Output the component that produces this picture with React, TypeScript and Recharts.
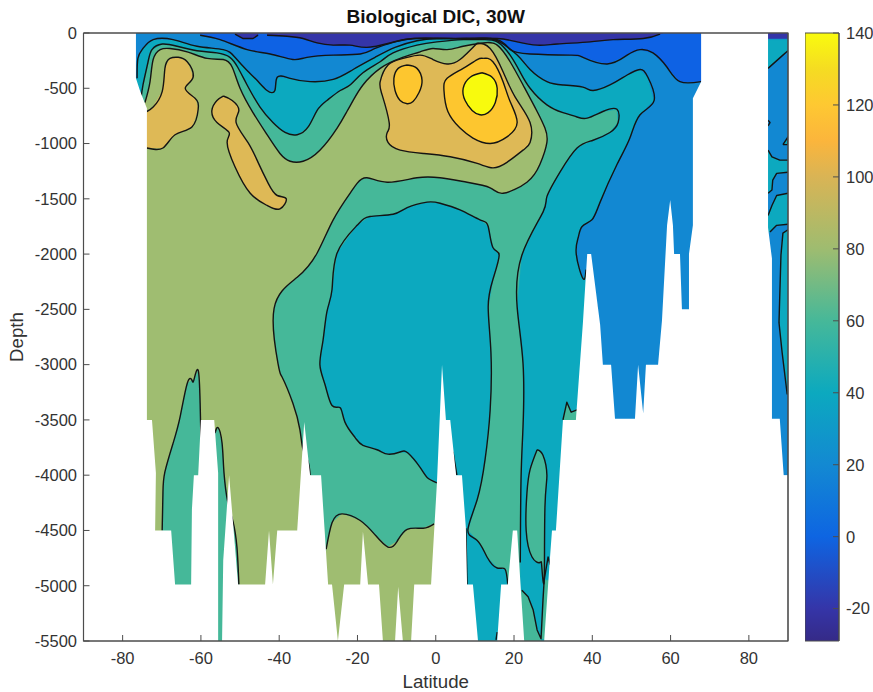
import { Bar, BarChart, Label, Scatter, ScatterChart, XAxis, YAxis } from "recharts";

type Pt = [number, number];

const latTicks = [-80, -60, -40, -20, 0, 20, 40, 60, 80];
const depthTicks = [-5500, -5000, -4500, -4000, -3500, -3000, -2500, -2000, -1500, -1000, -500, 0];
const barTicks = [-20, 0, 20, 40, 60, 80, 100, 120, 140];
const barValues = [140, 130, 120, 110, 100, 80, 60, 40, 20, 0, -20, -29];
const barColors = ["#f9fb0e", "#f5dc22", "#fec832", "#fbb53c", "#d9b455", "#9ebc70", "#46b899", "#0ca9bf", "#1389d2", "#0e65e2", "#3535a8", "#352a87"];

const NAVY = "#3535a8";
const BRIGHT = "#0e62e4";
const BLUE = "#1288d2";
const TEAL = "#0ca9bf";
const GREEN = "#45b899";
const OLIVE = "#9fbd71";
const TAN = "#deb956";
const ORANGE = "#fdc62f";
const YELLOW = "#f8fa0d";

const c80Main: Pt[] = [[-74.3,-630],[-73,-440],[-72.2,-240],[-70.4,-150],[-67.9,-140],[-63.5,-170],[-58.4,-230],[-54.3,-240],[-52,-310],[-50,-500],[-46.7,-720],[-43.1,-920],[-39.8,-1090],[-37.2,-1160],[-33.9,-1160],[-29.6,-1060],[-25.2,-860],[-22.7,-710],[-21.1,-610],[-18.6,-470],[-14.2,-320],[-9.1,-230],[-4,-170],[-0.7,-140],[2.9,-150],[7,-120],[12.1,-90],[15.7,-110],[19,-260],[22.3,-470],[25.9,-710],[27.9,-860],[28.4,-990],[26.6,-1190],[23.3,-1350],[17.2,-1450],[13.9,-1400],[8,-1350],[1.1,-1310],[-4.8,-1310],[-12.4,-1350],[-17.6,-1310],[-20.1,-1360],[-21.9,-1450],[-26.2,-1690],[-30.3,-1990],[-35.4,-2210],[-41.3,-2490],[-40.3,-2990],[-39.3,-3110],[-36.5,-3350],[-34.7,-3590],[-33.9,-3770],[-32.6,-3880],[-32.1,-4000]];
const c80Lower: Pt[] = [[-28,-4670],[-26.5,-4430],[-23.9,-4350],[-19.3,-4410],[-15.5,-4540],[-12.2,-4650],[-9.9,-4600],[-7.3,-4490],[-3.2,-4480],[-0.4,-4440]];
const c80PatchA: Pt[] = [[-69.9,-4500],[-69.7,-4160],[-69.2,-3970],[-67.1,-3710],[-65.3,-3470],[-63.5,-3170],[-62.3,-3140],[-61.8,-3140],[-60.7,-3050],[-60.2,-3350],[-60,-3660]];
const c80PatchB: Pt[] = [[-56.4,-3620],[-55.6,-3570],[-54.6,-3710],[-54.1,-3980],[-53.1,-4250],[-51.8,-4420],[-50.8,-4650],[-50.3,-4990]];
const c60Top: Pt[] = [[-75.3,-600],[-74.8,-470],[-73.5,-260],[-72.5,-150],[-69.9,-100],[-66.1,-120],[-61,-160],[-55.9,-180],[-52.6,-220],[-50.6,-310],[-48.2,-470],[-44.9,-670],[-41.6,-810],[-38.5,-900],[-35.4,-920],[-32.6,-850],[-30.3,-700],[-27.8,-610],[-24.4,-520],[-21.9,-470],[-18.6,-360],[-14.2,-260],[-10.9,-180],[-4.8,-110],[0.3,-80],[7,-60],[12.1,-60],[15.7,-80],[19,-200],[21.5,-350],[24.1,-500],[28.4,-650],[32.5,-720],[36.1,-760],[38.7,-770],[42.7,-710],[46.3,-690],[46.6,-810],[44.5,-900],[40.2,-970],[36.1,-1040],[31.7,-1260],[28.4,-1480],[27.4,-1620],[22,-2010],[20.8,-2480],[22.3,-2990],[22.3,-3560],[21.8,-4020],[21.6,-4790]];
const c60Lake: Pt[] = [[0.3,-4070],[-2.2,-4020],[-4,-3930],[-7.1,-3800],[-9.1,-3790],[-12.2,-3810],[-15,-3770],[-18.6,-3730],[-20.6,-3660],[-23.2,-3520],[-24.4,-3390],[-26.5,-3370],[-28.3,-3180],[-29.6,-3000],[-28.8,-2780],[-27.8,-2520],[-26.5,-2320],[-25.2,-1990],[-20.1,-1740],[-16.8,-1660],[-10.9,-1640],[-7.3,-1580],[-2.2,-1530],[1.1,-1540],[6.2,-1600],[11.3,-1690],[13.4,-1750],[14.6,-1940],[16.2,-2010],[14.6,-2230],[13.4,-2480],[14.1,-2890],[13.9,-3410],[12.6,-3860],[10.6,-4220],[8.2,-4500],[10.6,-4590],[13.1,-4740],[15.7,-4840],[17.7,-4850],[18.4,-4990]];
const c60Ellipse: Pt[] = [[25.9,-3770],[27.4,-3820],[28.4,-4000],[27.9,-4290],[27.7,-4950],[27.1,-4830],[26.6,-4790],[24.6,-4740],[23.1,-4500],[23.3,-4160],[24.1,-3950],[25.9,-3770]];
const c60Tail: Pt[] = [[27.7,-4950],[28.7,-4740],[29.2,-4810]];
const c60Floor: Pt[] = [[22,-5040],[23.6,-5100],[24.9,-5220],[25.9,-5400],[26.9,-5480],[27.4,-5130],[27.7,-4950]];
const c60Corner: Pt[] = [[32.5,-3500],[33.5,-3340],[34.6,-3430],[36.1,-3410]];
const c40Top: Pt[] = [[-76.3,-410],[-76.1,-230],[-74.8,-140],[-72.2,-60],[-67.1,-60],[-61,-120],[-54.3,-150],[-51.3,-220],[-48.2,-340],[-45.6,-430],[-43.1,-520],[-41.1,-520],[-40.5,-400],[-37.2,-410],[-32.1,-440],[-26.2,-420],[-21.1,-330],[-15.5,-220],[-10.4,-130],[-4.8,-70],[0.3,-50],[7,-50],[12.1,-50],[15.7,-70],[20.8,-200],[24.1,-330],[28.4,-440],[32.5,-470],[37.6,-490],[40.2,-520],[44.5,-470],[48.9,-380],[52.2,-330],[54.2,-400],[55.8,-610],[52.2,-740],[49.6,-950],[46.3,-1190],[42,-1530],[39.9,-1690],[37.4,-1750],[36.4,-1850],[35.9,-2000],[37.6,-2220],[38.4,-2140]];
const c20Top: Pt[] = [[-60.2,-20],[-55.1,-60],[-48.2,-150],[-42.3,-190],[-36.5,-240],[-32.9,-220],[-26.2,-200],[-19.3,-190],[-15.5,-140],[-10.4,-80],[-5.3,-50],[1.9,-50],[8,-50],[15.7,-60],[19,-150],[24.1,-190],[34.3,-200],[37.6,-220],[43.8,-280],[48.9,-200],[52.2,-150],[55.5,-180],[59.1,-310],[62.4,-440],[67.8,-440]];
const c0Blob: Pt[] = [[-51.3,-10],[-49.2,-50],[-46.7,-50],[-45.4,-20]];
const c0Top: Pt[] = [[-43.1,-20],[-38,-30],[-33.9,-50],[-30.3,-90],[-26.2,-110],[-21.9,-110],[-17.6,-130],[-11.7,-90],[-5.8,-50],[1.9,-50],[8,-50],[15.7,-50],[20.8,-80],[25.9,-110],[31,-100],[39.4,-80],[45.3,-60],[53,-50],[57.3,-10]];
const c100Center: Pt[] = [[10.6,-90],[13.9,-140],[17.2,-350],[20.3,-580],[24.1,-810],[24.1,-990],[22.3,-1060],[18.2,-1170],[14.6,-1220],[10.6,-1180],[3.7,-1120],[-3.2,-1090],[-9.1,-1060],[-12.2,-990],[-12.4,-900],[-11.9,-810],[-13.7,-560],[-14.2,-440],[-12.2,-290],[-8.4,-230],[-4,-200],[-0.7,-240],[2.9,-280],[6.2,-240],[10.6,-90]];
const c100Left: Pt[] = [[-73.8,-710],[-72.2,-670],[-69.9,-530],[-69.2,-320],[-67.9,-230],[-65.8,-220],[-63.5,-260],[-62,-400],[-64,-500],[-61.5,-590],[-60.7,-690],[-62.3,-850],[-66.6,-920],[-69.7,-1040],[-73.8,-1040]];
const c100Arm: Pt[] = [[-54.3,-570],[-52,-610],[-50.3,-700],[-51,-810],[-48,-990],[-45.4,-1170],[-42.8,-1360],[-40.5,-1470],[-38.2,-1500],[-39.8,-1590],[-43.1,-1560],[-47.4,-1450],[-51.3,-1210],[-53.3,-990],[-52.8,-900],[-55.9,-810],[-57.2,-700],[-55.9,-610],[-54.3,-570]];
const c120Left: Pt[] = [[-7.3,-290],[-4.8,-320],[-3.5,-430],[-4.3,-540],[-5.8,-620],[-7.3,-640],[-9.1,-610],[-10.4,-520],[-10.7,-410],[-9.6,-320],[-7.3,-290]];
const c120Right: Pt[] = [[12.1,-230],[14.6,-260],[17.2,-440],[19,-620],[20.8,-810],[18.2,-940],[13.9,-1000],[9.5,-950],[6.2,-860],[3.1,-710],[2.1,-520],[2.9,-410],[7,-320],[10.6,-240],[12.1,-230]];
const c140: Pt[] = [[11.8,-360],[14.4,-400],[15.7,-500],[15.2,-630],[13.4,-720],[11.3,-740],[9.3,-700],[7.5,-610],[7,-500],[8.8,-400],[11.8,-360]];

// short contour pieces left between the sea floor spikes
const stubA: Pt[] = [[7.7,-4480],[8,-4990]];
const stubB: Pt[] = [[4.4,-3790],[5.4,-4000]];
const stubC: Pt[] = [[40.2,-2250],[41.2,-2500]];
const stubD: Pt[] = [[15.7,-5420],[15.4,-5490]];

// far north column
const arcticTop: Pt[] = [[84.9,-320],[88.7,-200],[90,-160]];
const arcticDot: Pt[] = [[84.9,-790],[85.4,-810],[84.9,-840]];
const arcticTri: Pt[] = [[88.7,-1010],[90,-940],[90,-1010],[88.7,-1010]];
const arcticA: Pt[] = [[84.9,-1060],[85.9,-1120],[87.9,-1150],[90,-1150]];
const arcticB: Pt[] = [[90,-1260],[87.1,-1270],[86.1,-1330],[85.9,-1420],[84.9,-1450]];
const arcticC: Pt[] = [[90,-1450],[87.1,-1470],[85.9,-1560],[84.9,-1650]];
const arcticD: Pt[] = [[90,-1730],[87.1,-1740],[85.4,-1800]];
const arcticE: Pt[] = [[90,-1780],[88.7,-1810],[88.2,-2010],[87.7,-2620],[88.5,-2890],[89.8,-3270]];

const seaFloor: Pt[] = [[-76.6,0],[-76.6,-410],[-75.5,-530],[-73.8,-680],[-73.8,-3500],[-72.5,-3500],[-71.5,-3980],[-71.7,-4500],[-67.6,-4500],[-66.6,-4990],[-62.5,-4990],[-62.3,-4310],[-61.8,-4000],[-60.7,-4000],[-60,-3500],[-56.6,-3500],[-55.6,-3980],[-55.6,-5500],[-54.6,-5500],[-54.3,-4770],[-52.8,-4000],[-50.5,-4990],[-43.6,-4990],[-42.6,-4500],[-41.6,-4990],[-40.5,-4500],[-35.4,-4500],[-33.6,-3520],[-32.1,-4000],[-29.3,-4000],[-27.5,-4990],[-26.5,-4990],[-25,-5500],[-23.4,-4990],[-19.3,-4990],[-18.6,-4510],[-17.3,-4990],[-14.5,-4990],[-13.5,-5500],[-10.4,-5500],[-9.6,-5010],[-8.4,-5500],[-6.3,-5500],[-5.5,-4990],[-1.2,-4990],[0.3,-4070],[1.6,-3000],[2.6,-3500],[3.7,-3500],[5.2,-4000],[6.7,-4000],[7.7,-4480],[8,-4990],[9.5,-4990],[10.8,-5500],[15.7,-5500],[16.7,-4990],[18.4,-4990],[19.7,-4500],[20.8,-4500],[21.3,-4790],[22.6,-5500],[27.7,-5500],[29.2,-4740],[29.7,-4500],[30.7,-4500],[32.5,-3500],[35.8,-3500],[37.6,-2620],[38.7,-2000],[39.7,-2000],[42,-2640],[42.7,-3000],[44.8,-3000],[45.8,-3490],[50.9,-3490],[51.7,-3000],[53,-3440],[53.7,-3000],[56.8,-3000],[57.8,-2600],[59.1,-1740],[59.9,-1510],[60.6,-1740],[60.9,-2000],[62.4,-2000],[62.9,-2500],[64.7,-2500],[64.7,-2000],[65.7,-1740],[65.7,-590],[67.8,-440],[67.8,0],[84.9,0],[84.9,-1760],[85.9,-2040],[85.9,-3490],[87.9,-3490],[88.9,-4000],[90,-4000],[90,-5500],[-90,-5500],[-90,0]];
const plotFrame: Pt[] = [[-90,0],[90,0],[90,-5500],[-90,-5500],[-90,0]];

const fills: [Pt[], string, ("natural" | "linear")?][] = [
  [[[-78,0],[70,0],[70,-5500],[-78,-5500]], GREEN],
  [[...c80Main, [-34,-5200], [-80,-5200], [-80,-630]], OLIVE, "natural"],
  [[...c80Lower, [1,-4440], [1,-5500], [-29,-5500]], OLIVE],
  [[...c80PatchA, [-58,-3660], [-58,-5000], [-70,-5000]], GREEN],
  [[...c80PatchB, [-50.3,-5500], [-57,-5500]], GREEN],
  [[...c60Top, [21.6,-5500], [70,-5500], [70,0], [-78,0], [-78,-600]], TEAL],
  [[...c60Lake, [18.4,-5500], [4,-5500], [4,-4070]], TEAL],
  [c60Ellipse, GREEN, "natural"],
  [[...c60Floor.slice(0, 5), [26.9,-5500], [21,-5500], [21,-5040]], GREEN],
  [[...c60Floor.slice(4), [29,-4950], [29,-5500]], GREEN],
  [[...c60Corner, [37,-3410], [37,-3500]], GREEN],
  [[...c40Top, [40,-3000], [42,-5500], [70,-5500], [70,0], [-78,0], [-78,-410]], BLUE],
  [[...c20Top, [70,-440], [70,0], [-60.2,0]], BRIGHT],
  [[...c0Blob, [-45.4,0], [-51.3,0]], NAVY],
  [[...c0Top, [58,0], [-43.1,0]], NAVY],
  [[[84.5,0],[90,0],[90,-4000],[84.5,-4000]], BLUE],
  [[[84.5,-60],[90,-60],...[...arcticTop].reverse(),[84.5,-320]], TEAL],
  [[[84.5,0],[90,0],[90,-50],[84.5,-50]], NAVY],
  [arcticTri, TEAL],
  [[...arcticA, ...arcticB, [84.5,-1450], [84.5,-1060]], TEAL],
  [[...arcticC, [84.5,-1650], [84.5,-1800], ...[...arcticD].reverse()], TEAL],
  [[...arcticE, [90,-3270]], TEAL],
  [c100Center, TAN, "natural"],
  [[...c100Left, [-76,-1040], [-76,-710]], TAN],
  [c100Arm, TAN, "natural"],
  [c120Left, ORANGE, "natural"],
  [c120Right, ORANGE, "natural"],
  [c140, YELLOW, "natural"],
];

const smoothContours: Pt[][] = [
  c80Main, c80Lower, c80PatchA, c80PatchB, c60Top, c60Lake, c60Ellipse,
  c40Top, c20Top, c0Top, c100Center, c100Left, c100Arm, c120Left, c120Right, c140,
];
const straightContours: Pt[][] = [
  c60Tail, c60Floor, c60Corner, c0Blob, stubA, stubB, stubC, stubD,
  arcticTop, arcticDot, arcticTri, arcticA, arcticB, arcticC, arcticD, arcticE,
];

const toPoints = (rows: Pt[]) => rows.map(([lat, depth]) => ({ lat, depth }));
const noDot = () => <g />;
const FONT = "'Liberation Sans', Arial, sans-serif";
const AXIS_COLOR = "#4d4d4d";
const TEXT_COLOR = "#333333";
const tickStyle = { fontSize: 16.5, fontFamily: FONT, fill: TEXT_COLOR };
const labelStyle = { fontSize: 18.7, fontFamily: FONT, fill: TEXT_COLOR };
const lineStyle = { fill: "none", stroke: "#141414", strokeWidth: 1.4, strokeLinejoin: "round" as const };

const layer = { position: "absolute", left: 0, top: 0 } as const;

export default function App() {
  return (
    <div style={{ ...layer, width: 873, height: 692, background: "#ffffff" }}>
      <div style={layer}>
        <ScatterChart width={873} height={692} margin={{ top: 33, right: 85, bottom: 51, left: 83.5 }}>
          <XAxis type="number" dataKey="lat" domain={[-90, 90]} hide allowDataOverflow />
          <YAxis type="number" dataKey="depth" domain={[-5500, 0]} hide allowDataOverflow />
          {fills.map(([rows, color, curve], i) => (
            <Scatter
              key={"f" + i}
              data={toPoints(rows)}
              shape={noDot}
              lineJointType={curve ?? "linear"}
              line={{ fill: color, stroke: color, strokeWidth: 0.5 }}
              isAnimationActive={false}
            />
          ))}
          {smoothContours.map((rows, i) => (
            <Scatter
              key={"s" + i}
              data={toPoints(rows)}
              shape={noDot}
              lineJointType="natural"
              line={lineStyle}
              isAnimationActive={false}
            />
          ))}
          {straightContours.map((rows, i) => (
            <Scatter
              key={"c" + i}
              data={toPoints(rows)}
              shape={noDot}
              line={lineStyle}
              isAnimationActive={false}
            />
          ))}
          <Scatter
            data={toPoints(seaFloor)}
            shape={noDot}
            line={{ fill: "#ffffff", stroke: "none" }}
            isAnimationActive={false}
          />
        </ScatterChart>
      </div>

      <div style={layer}>
        <ScatterChart width={873} height={692} margin={{ top: 0, right: 0, bottom: 0, left: 0 }}>
          <XAxis
            xAxisId="bottom"
            type="number"
            dataKey="lat"
            domain={[-90, 90]}
            ticks={latTicks}
            interval={0}
            height={51}
            stroke={AXIS_COLOR}
            tickSize={-6}
            tickMargin={17}
            tick={tickStyle}
          >
            <Label value="Latitude" position="insideBottom" offset={4} style={labelStyle} />
          </XAxis>
          <XAxis
            xAxisId="top"
            orientation="top"
            type="number"
            dataKey="lat"
            domain={[-90, 90]}
            ticks={latTicks}
            interval={0}
            height={33}
            stroke={AXIS_COLOR}
            tickSize={-6}
            tick={false}
          >
            <Label value="Biological DIC, 30W" position="insideTop" offset={9.5} style={{ fontSize: 19, fontWeight: "bold", fontFamily: FONT, fill: "#111111" }} />
          </XAxis>
          <YAxis
            yAxisId="left"
            type="number"
            dataKey="depth"
            domain={[-5500, 0]}
            ticks={depthTicks}
            interval={0}
            width={83.5}
            stroke={AXIS_COLOR}
            tickSize={-6}
            tickMargin={12.5}
            tick={tickStyle}
          >
            <Label value="Depth" angle={-90} position="insideLeft" offset={16} style={{ ...labelStyle, textAnchor: "middle" }} />
          </YAxis>
          <YAxis
            yAxisId="right"
            orientation="right"
            type="number"
            dataKey="depth"
            domain={[-5500, 0]}
            ticks={depthTicks}
            interval={0}
            width={85}
            stroke={AXIS_COLOR}
            tickSize={-6}
            tick={false}
          />
          <Scatter
            xAxisId="bottom"
            yAxisId="left"
            data={toPoints(plotFrame)}
            shape={noDot}
            line={{ fill: "none", stroke: AXIS_COLOR, strokeWidth: 1.2 }}
            isAnimationActive={false}
          />
        </ScatterChart>
      </div>

      <div style={{ position: "absolute", left: 805, top: 0 }}>
        <BarChart
          width={68}
          height={692}
          data={[{ name: "scale", range: [-29, 140] }]}
          margin={{ top: 33, right: 0, bottom: 51, left: 0 }}
          barCategoryGap={0}
        >
          <defs>
            <linearGradient id="parula" x1="0" y1="0" x2="0" y2="1">
              {barValues.map((v, i) => (
                <stop key={v} offset={(140 - v) / 169} stopColor={barColors[i]} />
              ))}
            </linearGradient>
          </defs>
          <XAxis dataKey="name" hide />
          <YAxis
            orientation="right"
            type="number"
            domain={[-29, 140]}
            ticks={barTicks}
            interval={0}
            width={34}
            stroke={AXIS_COLOR}
            tickSize={-6}
            tickMargin={13}
            tick={tickStyle}
          />
          <Bar dataKey="range" fill="url(#parula)" stroke={AXIS_COLOR} isAnimationActive={false} />
        </BarChart>
      </div>
    </div>
  );
}
